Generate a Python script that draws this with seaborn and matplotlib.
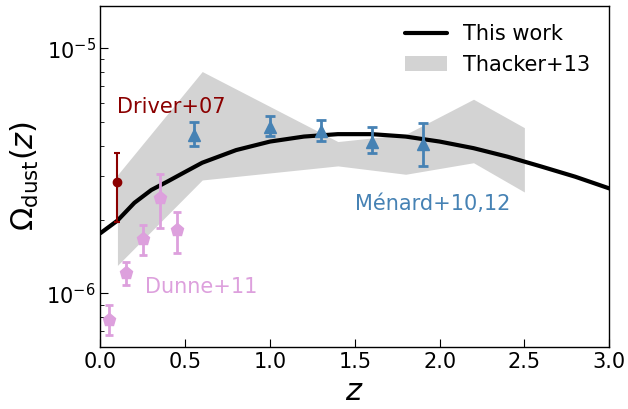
import numpy as np
import pandas as pd
import seaborn as sns
import matplotlib
matplotlib.use("Agg")
import matplotlib.pyplot as plt

# "This work" model curve
z_model = [0.0, 0.1, 0.2, 0.3, 0.4, 0.5, 0.6, 0.8, 1.0, 1.2, 1.4, 1.6,
           1.8, 2.0, 2.2, 2.4, 2.6, 2.8, 3.0]
omega_model = [1.76e-6, 1.98e-6, 2.34e-6, 2.64e-6, 2.87e-6, 3.13e-6, 3.41e-6,
               3.84e-6, 4.16e-6, 4.36e-6, 4.46e-6, 4.46e-6, 4.36e-6, 4.16e-6,
               3.91e-6, 3.61e-6, 3.29e-6, 2.99e-6, 2.68e-6]

# Thacker+13 band
z_thacker = [0.1, 0.6, 1.4, 1.8, 2.2, 2.5]
thacker_hi = [3.04e-6, 8.03e-6, 4.16e-6, 4.45e-6, 6.19e-6, 4.74e-6]
thacker_lo = [1.30e-6, 2.90e-6, 3.31e-6, 3.06e-6, 3.41e-6, 2.59e-6]

# Driver+07
z_driver = [0.1]
omega_driver = [2.85e-6]
driver_hi = [3.75e-6]
driver_lo = [1.95e-6]

# Dunne+11
z_dunne = [0.05, 0.15, 0.25, 0.35, 0.45]
omega_dunne = [7.8e-7, 1.21e-6, 1.66e-6, 2.45e-6, 1.81e-6]
dunne_hi = [9.0e-7, 1.34e-6, 1.90e-6, 3.08e-6, 2.15e-6]
dunne_lo = [6.73e-7, 1.08e-6, 1.43e-6, 1.85e-6, 1.46e-6]

# Menard+10,12
z_menard = [0.55, 1.0, 1.3, 1.6, 1.9]
omega_menard = [4.44e-6, 4.79e-6, 4.61e-6, 4.16e-6, 4.05e-6]
menard_hi = [5.02e-6, 5.31e-6, 5.07e-6, 4.79e-6, 4.93e-6]
menard_lo = [4.00e-6, 4.40e-6, 4.20e-6, 3.75e-6, 3.31e-6]

sns.set_style("ticks")
plt.rcParams["font.family"] = ["DejaVu Sans"]
for key in ["text.color", "axes.labelcolor", "xtick.color", "ytick.color",
            "axes.edgecolor"]:
    plt.rcParams[key] = "black"

fig = plt.figure(figsize=(6.28, 4.09), dpi=100)
ax = fig.add_axes([0.160, 0.152, 0.810, 0.834])

band = ax.fill_between(z_thacker, thacker_lo, thacker_hi, color="lightgray",
                       linewidth=0, label="Thacker+13", zorder=1)

df = pd.DataFrame({"z": z_model, "omega": omega_model})
sns.lineplot(data=df, x="z", y="omega", color="black", linewidth=3,
             label="This work", ax=ax, zorder=2)


def yerr(vals, hi, lo):
    v = np.array(vals)
    return [v - np.array(lo), np.array(hi) - v]


ax.errorbar(z_driver, omega_driver, yerr=yerr(omega_driver, driver_hi, driver_lo),
            fmt="o", color="darkred", ms=6, elinewidth=1.5, capsize=2.2,
            capthick=1.5, zorder=3)
ax.errorbar(z_dunne, omega_dunne, yerr=yerr(omega_dunne, dunne_hi, dunne_lo),
            fmt="p", color="plum", ms=9.5, elinewidth=2, capsize=3.2,
            capthick=2, zorder=3)
ax.errorbar(z_menard, omega_menard, yerr=yerr(omega_menard, menard_hi, menard_lo),
            fmt="^", color="steelblue", ms=9, elinewidth=2, capsize=3.6,
            capthick=2, zorder=3)

ax.text(0.1, 5.44e-6, "Driver+07", color="darkred", fontsize=15, va="baseline")
ax.text(0.26, 1.0e-6, "Dunne+11", color="plum", fontsize=15, va="baseline")
ax.text(1.5, 2.19e-6, "Ménard+10,12", color="steelblue", fontsize=15,
        va="baseline")

ax.set_yscale("log")
ax.set_xlim(0, 3)
ax.set_ylim(6.05e-7, 1.49e-5)
ax.set_xticks([0.0, 0.5, 1.0, 1.5, 2.0, 2.5, 3.0])
ax.tick_params(axis="both", which="both", direction="in", labelsize=15)
ax.tick_params(axis="both", which="major", length=6)
ax.tick_params(axis="y", which="minor", length=3)

ax.set_xlabel(r"$z$", fontsize=22)
ax.set_ylabel(r"$\Omega_{\rm dust}(z)$", fontsize=22)

handles, labels = ax.get_legend_handles_labels()
order = [labels.index("This work"), labels.index("Thacker+13")]
ax.legend([handles[i] for i in order], [labels[i] for i in order],
          loc="upper right", frameon=False, fontsize=15)

for s in ax.spines.values():
    s.set_linewidth(1.0)

fig.savefig("out.png", dpi=100)
